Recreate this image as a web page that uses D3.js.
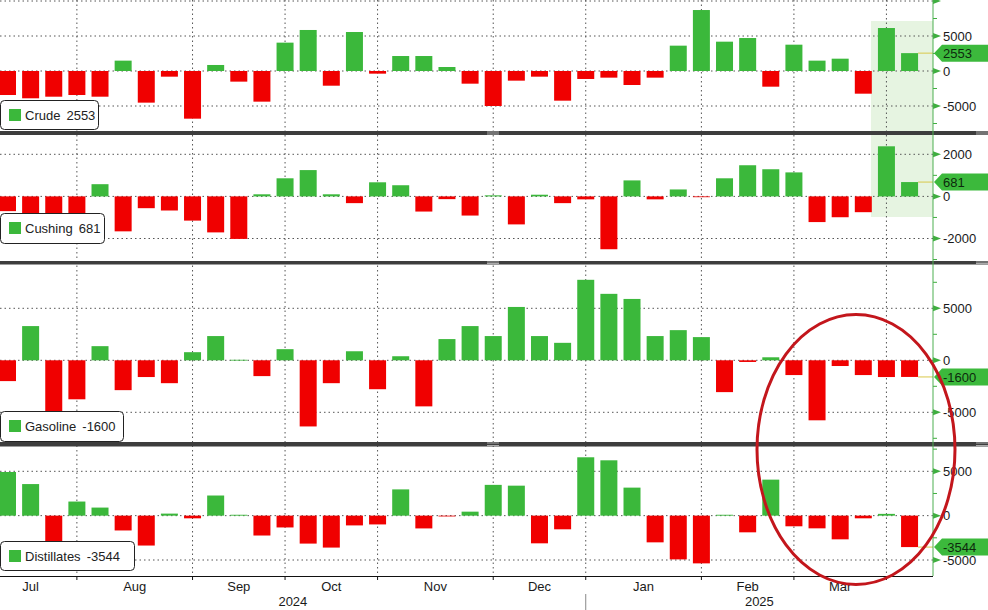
<!DOCTYPE html>
<html>
<head>
<meta charset="utf-8">
<script src="https://cdn.jsdelivr.net/npm/d3@7"></script>
<style>
  html, body { margin: 0; padding: 0; background: #fff; }
  svg { display: block; font-family: "Liberation Sans", Arial, sans-serif; }
</style>
</head>
<body>
<svg id="chart" width="988" height="610"></svg>
<script>
// ---------- DATA ----------
const weeks = [
  "2024-07-05","2024-07-12","2024-07-19","2024-07-26",
  "2024-08-02","2024-08-09","2024-08-16","2024-08-23","2024-08-30",
  "2024-09-06","2024-09-13","2024-09-20","2024-09-27",
  "2024-10-04","2024-10-11","2024-10-18","2024-10-25",
  "2024-11-01","2024-11-08","2024-11-15","2024-11-22","2024-11-29",
  "2024-12-06","2024-12-13","2024-12-20","2024-12-27",
  "2025-01-03","2025-01-10","2025-01-17","2025-01-24","2025-01-31",
  "2025-02-07","2025-02-14","2025-02-21","2025-02-28",
  "2025-03-07","2025-03-14","2025-03-21","2025-03-28",
  "2025-04-04"
];
const crude = [-3430,-3900,-3670,-3430,-3670,1480,-4520,-810,-6810,860,-1520,-4380,4050,5860,-2100,5570,-380,2140,2140,570,-1810,-5000,-1380,-810,-4240,-1140,-950,-2000,-950,3620,8710,4190,4710,-2240,3760,1480,1760,-3240,6140,2553];
const cushing = [-700,-830,-830,-830,580,-1660,-560,-670,-1150,-1710,-2020,100,860,1250,100,-320,670,530,-720,-130,-910,50,-1330,80,-320,-140,-2510,760,-140,330,-30,860,1480,1290,1140,-1220,-990,-750,2380,681];
const gasoline = [-2000,3290,-4900,-3750,1360,-2870,-1610,-2200,780,2330,50,-1520,1070,-6360,-2200,870,-2780,390,-4430,2040,3290,2330,5130,2330,1680,7740,6390,5900,2330,2900,2230,-3060,-160,290,-1420,-5770,-550,-1420,-1610,-1600];
const distillates = [4920,3560,-3300,1590,910,-1670,-3370,230,-300,2270,100,-2240,-1330,-3150,-3600,-1100,-990,2960,-1440,-80,450,3470,3380,-3120,-1540,6580,6240,3160,-3010,-4930,-5380,100,-1880,4060,-1200,-1430,-2670,-300,200,-3544];

const seriesNames = ["Crude", "Cushing", "Gasoline", "Distillates"];
const crudeTicks = [-5000, 0, 5000, 10000];
const cushingTicks = [-2000, 0, 2000];
const gasolineTicks = [-5000, 0, 5000];
const distillatesTicks = [-5000, 0, 5000];
const monthNames = ["Jan","Feb","Mar","Apr","May","Jun","Jul","Aug","Sep","Oct","Nov","Dec"];
const highlightWeeks = ["2025-03-28", "2025-04-04"];

// ---------- LAYOUT ----------
const W = 988, H = 610;
const axisX = 933;
const GREEN = "#3bb83b", RED = "#f00000";
const svg = d3.select("#chart");

const x = d3.scaleBand().domain(weeks).range([-4.07, 921.13]).paddingInner(0.265).paddingOuter(0.1325);
const xc = d => x(d) + x.bandwidth() / 2;

const panels = [
  { name: seriesNames[0], values: crude, ticks: crudeTicks, top: 0, bottom: 131,
    y: d3.scaleLinear().domain([-5000, 5000]).range([106, 36]),
    legend: { y: 100, w: 99, h: 30 } },
  { name: seriesNames[1], values: cushing, ticks: cushingTicks, top: 135, bottom: 261,
    y: d3.scaleLinear().domain([-2000, 2000]).range([238.5, 154.3]),
    legend: { y: 213, w: 105, h: 31 } },
  { name: seriesNames[2], values: gasoline, ticks: gasolineTicks, top: 264, bottom: 442,
    y: d3.scaleLinear().domain([-5000, 5000]).range([412.3, 308.3]),
    legend: { y: 411, w: 124, h: 31 } },
  { name: seriesNames[3], values: distillates, ticks: distillatesTicks, top: 446, bottom: 576,
    y: d3.scaleLinear().domain([-5000, 5000]).range([560, 471.3]),
    legend: { y: 541, w: 135, h: 30 } }
];

// month boundaries: last week of each month
const parse = d3.timeParse("%Y-%m-%d");
const dts = weeks.map(parse);
const boundaries = [];
for (let i = 0; i < dts.length - 1; i++) {
  if (dts[i].getMonth() !== dts[i + 1].getMonth()) boundaries.push(i);
}
const step = x.step();
const idxX = i => xc(weeks[0]) + i * step;

const defs = svg.append("defs");

// highlight shading (latest two weeks, crude & cushing)
svg.append("rect")
  .attr("x", xc(highlightWeeks[0]) - 15.5).attr("y", 21)
  .attr("width", axisX - (xc(highlightWeeks[0]) - 15.5)).attr("height", 196)
  .attr("fill", "#e6f4e1");

// vertical gridlines
svg.append("g").selectAll("line").data(boundaries).join("line")
  .attr("x1", i => idxX(i)).attr("x2", i => idxX(i))
  .attr("y1", 0).attr("y2", 576)
  .attr("stroke", "#555").attr("stroke-width", 1).attr("stroke-dasharray", "1.5,3");

panels.forEach((p, pi) => {
  const cid = "clip" + pi;
  defs.append("clipPath").attr("id", cid).append("rect")
    .attr("x", 0).attr("y", p.top).attr("width", axisX).attr("height", p.bottom - p.top);
  const g = svg.append("g").attr("clip-path", `url(#${cid})`);

  // horizontal gridlines
  g.selectAll("line.h").data(p.ticks).join("line")
    .attr("x1", 0).attr("x2", axisX)
    .attr("y1", d => p.y(d)).attr("y2", d => p.y(d))
    .attr("stroke", "#555").attr("stroke-width", 1).attr("stroke-dasharray", "1.5,3");

  // bars
  g.selectAll("rect.bar").data(p.values).join("rect")
    .attr("x", (d, i) => x(weeks[i]))
    .attr("width", x.bandwidth())
    .attr("y", d => Math.min(p.y(d), p.y(0)))
    .attr("height", d => Math.max(0.8, Math.abs(p.y(d) - p.y(0))))
    .attr("fill", d => d >= 0 ? GREEN : RED);

  // last value line
  const last = p.values[p.values.length - 1];
  svg.append("line")
    .attr("x1", x(weeks[weeks.length - 1]) + x.bandwidth()).attr("x2", axisX)
    .attr("y1", p.y(last)).attr("y2", p.y(last))
    .attr("stroke", "#d9c84a").attr("stroke-width", 1);

  // right axis ticks (major arrows)
  const ta = svg.append("g");
  p.ticks.forEach(t => {
    const yy = p.y(t);
    if (yy < p.top - 2 || yy > p.bottom + 2) return;
    ta.append("path")
      .attr("d", `M${axisX},${yy - 3}L${axisX + 8},${yy}L${axisX},${yy + 3}Z`)
      .attr("fill", "#3fae3f");
    if (yy > p.top + 8) {
      ta.append("text").attr("x", axisX + 10).attr("y", yy).attr("dy", "0.36em")
        .attr("font-size", 13).attr("fill", "#1a1a1a").text(t);
    }
  });
  // minor ticks
  const tstep = p.ticks[1] - p.ticks[0];
  const minors = d3.range(p.y.invert(p.bottom), p.y.invert(p.top), 1)
    .length ? [] : [];
  const lo = Math.ceil(p.y.invert(p.bottom) / (tstep / 2)) * (tstep / 2);
  for (let v = lo; p.y(v) >= p.top; v += tstep / 2) {
    if (Math.abs(v / tstep - Math.round(v / tstep)) > 0.01) {
      ta.append("line").attr("x1", axisX).attr("x2", axisX + 4)
        .attr("y1", p.y(v)).attr("y2", p.y(v))
        .attr("stroke", "#3fae3f").attr("stroke-width", 1);
    }
  }

  // value tag
  const ty = p.y(last);
  svg.append("path")
    .attr("d", `M${axisX + 1},${ty}L${axisX + 9},${ty - 8.5}L${W},${ty - 8.5}L${W},${ty + 8.5}L${axisX + 9},${ty + 8.5}Z`)
    .attr("fill", "#3cb93c");
  svg.append("text").attr("x", axisX + 10).attr("y", ty).attr("dy", "0.36em")
    .attr("font-size", 13).attr("fill", "#0d2a0d").text(last);

  // legend
  const lg = svg.append("g");
  lg.append("rect").attr("x", 0.5).attr("y", p.legend.y + 0.5)
    .attr("width", p.legend.w - 1).attr("height", p.legend.h - 1)
    .attr("rx", 4).attr("fill", "#fff").attr("stroke", "#222").attr("stroke-width", 1);
  lg.append("rect").attr("x", 9).attr("y", p.legend.y + 9)
    .attr("width", 12).attr("height", 12).attr("fill", GREEN);
  const nameT = lg.append("text").attr("x", 25).attr("y", p.legend.y + p.legend.h / 2).attr("dy", "0.36em")
    .attr("font-size", 13).attr("fill", "#222").text(p.name);
  const nw = nameT.node().getComputedTextLength();
  lg.append("text").attr("x", 25 + nw + 6).attr("y", p.legend.y + p.legend.h / 2).attr("dy", "0.36em")
    .attr("font-size", 13).attr("fill", "#222").text(last);
});

// panel separators
const seps = [[131, 4], [261, 3.5], [442, 4.5]];
seps.forEach(([y0, h]) => {
  svg.append("rect").attr("x", 0).attr("y", y0).attr("width", W).attr("height", h).attr("fill", "#3d3d3d");
  [487, 976].forEach(gx => {
    svg.append("line").attr("x1", gx).attr("x2", gx + 12).attr("y1", y0 + 1).attr("y2", y0 + 1).attr("stroke", "#aaa");
    svg.append("line").attr("x1", gx).attr("x2", gx + 12).attr("y1", y0 + h - 1).attr("y2", y0 + h - 1).attr("stroke", "#aaa");
  });
});

// right axis line
svg.append("line").attr("x1", axisX).attr("x2", axisX).attr("y1", 0).attr("y2", 576)
  .attr("stroke", "#4caf50").attr("stroke-width", 1);

// bottom axis
svg.append("line").attr("x1", 0).attr("x2", axisX).attr("y1", 576.5).attr("y2", 576.5)
  .attr("stroke", "#111").attr("stroke-width", 1);
svg.append("g").selectAll("line").data(boundaries).join("line")
  .attr("x1", i => idxX(i)).attr("x2", i => idxX(i))
  .attr("y1", 576).attr("y2", 580).attr("stroke", "#111");

// month labels centered between boundaries
const bAll = [boundaries[0] - (dts.slice(0, boundaries[0] + 1).length)].concat(boundaries);
const monthLabels = [];
for (let k = 0; k < bAll.length - 1; k++) {
  const mid = (bAll[k] + bAll[k + 1]) / 2;
  monthLabels.push({ x: idxX(mid), t: monthNames[dts[bAll[k + 1]].getMonth()] });
}
svg.append("g").selectAll("text").data(monthLabels).join("text")
  .attr("x", d => d.x).attr("y", 591).attr("text-anchor", "middle")
  .attr("font-size", 13).attr("fill", "#1a1a1a").text(d => d.t);

// year labels
const yearBreak = boundaries.find(i => dts[i].getFullYear() === 2024 && dts[i + 1].getFullYear() === 2025);
const yb = idxX(yearBreak);
svg.append("line").attr("x1", yb).attr("x2", yb).attr("y1", 594).attr("y2", 610).attr("stroke", "#888");
[["2024", yb / 2], ["2025", (yb + axisX) / 2]].forEach(([t, px]) => {
  svg.append("text").attr("x", px).attr("y", 606).attr("text-anchor", "middle")
    .attr("font-size", 13).attr("fill", "#1a1a1a").text(t);
});

// red ellipse annotation
svg.append("ellipse").attr("cx", 856).attr("cy", 449.5).attr("rx", 99).attr("ry", 135)
  .attr("fill", "none").attr("stroke", "#c3161c").attr("stroke-width", 3);
</script>
</body>
</html>
